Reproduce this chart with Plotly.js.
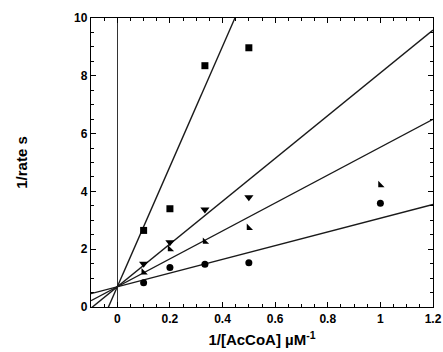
<!DOCTYPE html>
<html><head><meta charset="utf-8">
<script src="https://cdn.plot.ly/plotly-3.0.1.min.js"></script>
<style>html,body{margin:0;padding:0;background:#fff;}#chart{width:443px;height:352px;}</style>
</head><body><div id="chart"></div>
<script>
// Data
var xSquares = [0.1, 0.2, 0.333, 0.5];
var ySquares = [2.65, 3.4, 8.35, 8.97];
var xDown = [0.1, 0.2, 0.333, 0.5];
var yDown = [1.5, 2.24, 3.37, 3.8];
var xCorner = [0.1, 0.2, 0.333, 0.5, 1.0];
var yCorner = [1.2, 2.0, 2.26, 2.74, 4.22];
var xCircles = [0.1, 0.2, 0.333, 0.5, 1.0];
var yCircles = [0.84, 1.37, 1.48, 1.53, 3.59];
// Fitted lines: common intercept and slopes
var lineIntercept = 0.7;
var lineSlopes = [20.8, 7.4, 4.83, 2.375];
var lineX = [-0.1, 1.2];

var mk = function(sym, sz){ return {symbol: sym, size: sz, color: '#000'}; };
var traces = [];
lineSlopes.forEach(function(s){
  traces.push({x: lineX, y: lineX.map(function(v){return lineIntercept + s*v;}),
    mode: 'lines', line: {color: '#1a1a1a', width: 1.4}, hoverinfo: 'skip'});
});
traces.push({x: xSquares, y: ySquares, mode: 'markers', marker: mk('square', 7)});
traces.push({x: xDown, y: yDown, mode: 'markers', marker: mk('triangle-down', 8)});
traces.push({x: xCorner, y: yCorner, mode: 'markers', marker: mk('triangle-sw', 7)});
traces.push({x: xCircles, y: yCircles, mode: 'markers', marker: mk('circle', 7)});

var tickFont = {family: 'Liberation Sans, Arial, sans-serif', size: 12, color: '#000', weight: 'bold'};
var titleFont = {family: 'Liberation Sans, Arial, sans-serif', size: 15, color: '#000', weight: 'bold'};
var layout = {
  width: 443, height: 352,
  margin: {l: 91, r: 10, t: 18, b: 45},
  showlegend: false,
  paper_bgcolor: '#fff', plot_bgcolor: '#fff',
  xaxis: {range: [-0.1, 1.2], tickvals: [0, 0.2, 0.4, 0.6, 0.8, 1, 1.2],
    ticktext: ['0','0.2','0.4','0.6','0.8','1','1.2'],
    ticks: 'inside', ticklen: 5, tickwidth: 1, tickcolor: '#000',
    minor: {dtick: 0.05, tick0: 0, ticks: 'inside', ticklen: 3, tickcolor: '#000', showgrid: false},
    showgrid: false, zeroline: true, zerolinecolor: '#333', zerolinewidth: 1,
    showline: true, linecolor: '#000', linewidth: 1.2, mirror: 'ticks',
    tickfont: tickFont,
    title: {text: '1/[AcCoA] µM<sup>-1</sup>', font: titleFont, standoff: 10}},
  yaxis: {range: [0, 10], tickvals: [0, 2, 4, 6, 8, 10],
    ticks: 'inside', ticklen: 5, tickwidth: 1, tickcolor: '#000',
    minor: {dtick: 0.5, tick0: 0, ticks: 'inside', ticklen: 3, tickcolor: '#000', showgrid: false},
    showgrid: false, zeroline: false,
    showline: true, linecolor: '#000', linewidth: 1.2, mirror: 'ticks',
    tickfont: tickFont,
    title: {text: '1/rate s', font: titleFont, standoff: 42}}
};
Plotly.newPlot('chart', traces, layout, {displayModeBar: false, staticPlot: true});
</script>
</body></html>
